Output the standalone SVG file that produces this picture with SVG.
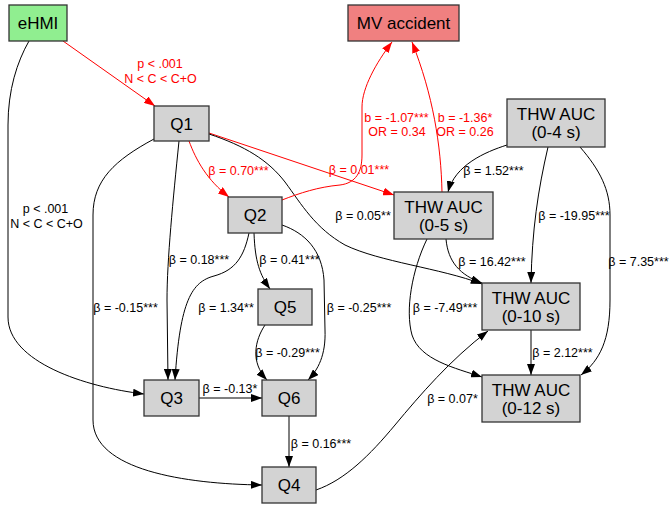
<svg xmlns="http://www.w3.org/2000/svg" width="669" height="506" viewBox="0 0 669 506">
<style>
.n rect{stroke:#333;stroke-width:1.3}
.g rect{fill:#d3d3d3}
.n text{font-family:"Liberation Sans",Arial,sans-serif;font-size:17px;text-anchor:middle;fill:#000}
.e path{fill:none;stroke:#000;stroke-width:1}
.e path.r{stroke:#f00}
.e path.k{marker-end:url(#ak)}
.e path.r{marker-end:url(#ar)}
.l text{font-family:"Liberation Sans",Arial,sans-serif;font-size:12.5px;text-anchor:middle;fill:#000}
.l text.r{fill:#f00}
</style>
<defs>
<marker id="ak" markerWidth="11" markerHeight="8" refX="11" refY="4" orient="auto" markerUnits="userSpaceOnUse"><path d="M0,0 L11,4 L0,8 z" fill="#000"/></marker>
<marker id="ar" markerWidth="11" markerHeight="8" refX="11" refY="4" orient="auto" markerUnits="userSpaceOnUse"><path d="M0,0 L11,4 L0,8 z" fill="#f00"/></marker>
</defs>
<rect width="669" height="506" fill="#fff"/>
<g id="edges" class="e">
<path class="r" d="M63,41 L155,106"/>
<path class="k" d="M29,41 C17,62 8,90 8,125 L8,317 C8,362 85,387 144,394"/>
<path class="k" d="M179,141 C173,200 167,260 167,300 L168,380"/>
<path class="k" d="M249,233 C244,256 236,270 214,276 C192,282 180,300 175,380"/>
<path class="k" d="M154,139 C115,160 93,180 93,215 L93,420 C93,470 185,484 262,485"/>
<path class="r" d="M189,141 C196,160 207,180 229,197"/>
<path class="r" d="M209,133 L394,195"/>
<path class="k" d="M209,134 C245,146 268,160 285,182 C302,205 315,228 345,245 C380,262 440,268 482,284"/>
<path class="r" d="M282,200 C300,193 318,187 340,185 C356,183 362,172 362,155 L362,107 C362,88 376,63 392,42"/>
<path class="r" d="M442,192 C441,145 433,95 412,42"/>
<path class="k" d="M507,145 C485,152 455,165 448,192"/>
<path class="k" d="M548,147 C538,190 532,230 531,283"/>
<path class="k" d="M580,147 C600,170 610,190 610,215 L610,300 C610,340 600,360 581,375"/>
<path class="k" d="M446,239 C448,262 460,275 482,283"/>
<path class="k" d="M427,239 C412,270 405,310 412,335 C420,360 455,368 482,377"/>
<path class="k" d="M531,330 L531,375"/>
<path class="k" d="M316,490 C345,480 370,455 395,425 C420,395 450,360 488,331"/>
<path class="k" d="M254,233 C255,262 260,275 270,289"/>
<path class="k" d="M282,225 C305,233 322,250 324,280 L325,330 C326,355 318,370 308,380"/>
<path class="k" d="M265,325 C255,340 250,362 267,380"/>
<path class="k" d="M199,398 L262,398"/>
<path class="k" d="M289,416 L289,467"/>
</g>
<g id="labels" class="l">
<text class="r" x="160" y="68">p &lt; .001</text>
<text class="r" x="160.5" y="83">N &lt; C &lt; C+O</text>
<text x="45.5" y="213">p &lt; .001</text>
<text x="46.5" y="228">N &lt; C &lt; C+O</text>
<text class="r" x="238.5" y="175">β = 0.70***</text>
<text class="r" x="359" y="174">β = 0.01***</text>
<text x="363" y="220">β = 0.05**</text>
<text class="r" x="396.5" y="122">b = -1.07***</text>
<text class="r" x="397" y="136">OR = 0.34</text>
<text class="r" x="465" y="122">b = -1.36*</text>
<text class="r" x="465" y="136">OR = 0.26</text>
<text x="493.5" y="175">β = 1.52***</text>
<text x="574" y="220">β = -19.95***</text>
<text x="638.5" y="266">β = 7.35***</text>
<text x="492" y="266">β = 16.42***</text>
<text x="359" y="312">β = -0.25***</text>
<text x="445" y="312">β = -7.49***</text>
<text x="562.5" y="357">β = 2.12***</text>
<text x="452.5" y="403">β = 0.07*</text>
<text x="199" y="264">β = 0.18***</text>
<text x="289.5" y="264">β = 0.41***</text>
<text x="226" y="312">β = 1.34**</text>
<text x="125.5" y="312">β = -0.15***</text>
<text x="287.5" y="357">β = -0.29***</text>
<text x="230" y="393">β = -0.13*</text>
<text x="321" y="448">β = 0.16***</text>
</g>
<g id="eHMI" class="n"><rect x="9" y="5" width="58" height="36" fill="#90ee90"/><text x="38" y="29">eHMI</text></g>
<g id="MV" class="n"><rect x="348" y="5" width="111" height="36" fill="#f08080"/><text x="403.5" y="29">MV accident</text></g>
<g id="Q1" class="n g"><rect x="154" y="106" width="55" height="35"/><text x="181.5" y="130">Q1</text></g>
<g id="Q2" class="n g"><rect x="228" y="197" width="54" height="36"/><text x="255" y="221">Q2</text></g>
<g id="THW04" class="n g"><rect x="507" y="99" width="98" height="48"/><text x="556" y="120">THW AUC</text><text x="556" y="138">(0-4 s)</text></g>
<g id="THW05" class="n g"><rect x="394" y="192" width="99" height="47"/><text x="443.5" y="212.5">THW AUC</text><text x="443.5" y="230.5">(0-5 s)</text></g>
<g id="THW010" class="n g"><rect x="482" y="283" width="98" height="47"/><text x="531" y="303.5">THW AUC</text><text x="531" y="321.5">(0-10 s)</text></g>
<g id="THW012" class="n g"><rect x="482" y="375" width="98" height="47"/><text x="531" y="395.5">THW AUC</text><text x="531" y="413.5">(0-12 s)</text></g>
<g id="Q5" class="n g"><rect x="258" y="289" width="54" height="36"/><text x="285" y="313">Q5</text></g>
<g id="Q3" class="n g"><rect x="144" y="380" width="55" height="36"/><text x="171.5" y="404">Q3</text></g>
<g id="Q6" class="n g"><rect x="262" y="380" width="54" height="36"/><text x="289" y="404">Q6</text></g>
<g id="Q4" class="n g"><rect x="262" y="467" width="54" height="36"/><text x="289" y="491">Q4</text></g>
</svg>
